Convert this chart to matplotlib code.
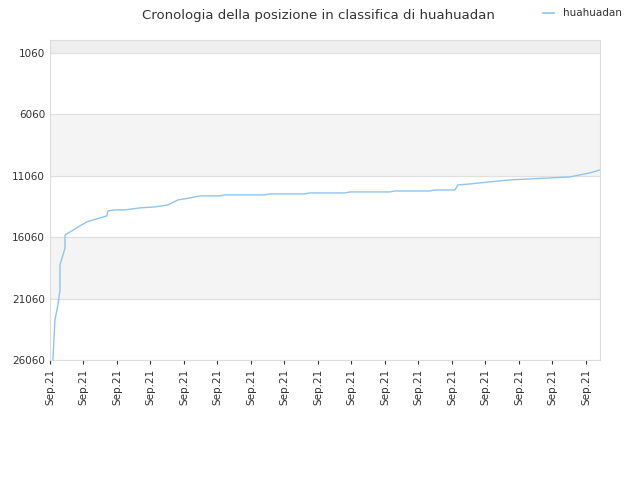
import matplotlib
matplotlib.use("Agg")
import matplotlib.pyplot as plt

# ranking history (day index, rank)
days = [0.09, 0.12, 0.15, 0.24, 0.30, 0.30, 0.39, 0.45, 0.45, 0.60, 0.84, 1.10, 1.49, 1.70,
        1.73, 1.94, 2.24, 2.69, 3.13, 3.52, 3.82, 4.18, 4.48, 5.07, 5.22, 6.42, 6.57, 7.61,
        7.76, 8.81, 8.96, 10.15, 10.30, 11.34, 11.49, 12.09, 12.18, 12.54, 13.13, 13.73,
        14.33, 14.93, 15.52, 15.82, 16.12, 16.42]
rank = [26060, 24430, 22800, 21580, 20360, 18320, 17510, 16940, 15880, 15640, 15230, 14820,
        14500, 14330, 13930, 13840, 13840, 13680, 13600, 13440, 13030, 12870, 12700, 12700,
        12620, 12620, 12540, 12540, 12460, 12460, 12380, 12380, 12300, 12300, 12220, 12220,
        11810, 11730, 11560, 11400, 11320, 11240, 11160, 10990, 10830, 10590]

yticks = [1060, 6060, 11060, 16060, 21060, 26060]
xticks = list(range(17))
xlabels = ["Sep.21"] * len(xticks)

fig = plt.figure(figsize=(6.4, 4.8), dpi=100)
ax = fig.add_axes([0.078, 0.25, 0.8595, 0.667])

ax.axhspan(0, 1060, color="#eeeeee", zorder=0)
ax.axhspan(6060, 11060, color="#f4f4f4", zorder=0)
ax.axhspan(16060, 21060, color="#f4f4f4", zorder=0)
for y in yticks:
    ax.axhline(y, color="#e0e0e0", lw=0.8, zorder=1)

ax.plot(days, rank, color="#90c4f0", lw=1.0, zorder=2)

ax.set_xlim(0, 16.42)
ax.set_ylim(26060, 0)
ax.set_yticks(yticks)
ax.set_xticks(xticks)
ax.set_xticklabels(xlabels, rotation=90)
ax.tick_params(labelsize=7.5, colors="#333333", length=3)
ax.tick_params(axis="y", length=0)
for s in ax.spines.values():
    s.set_color("#dddddd")

fig.text(0.497, 0.968, "Cronologia della posizione in classifica di huahuadan",
         ha="center", va="center", fontsize=9.5, color="#333333")
fig.lines.append(plt.Line2D([0.848, 0.865], [0.972, 0.972], transform=fig.transFigure,
                            color="#90c4f0", lw=1.2))
fig.text(0.88, 0.972, "huahuadan", ha="left", va="center", fontsize=7.5, color="#333333")

fig.savefig("out.png")
